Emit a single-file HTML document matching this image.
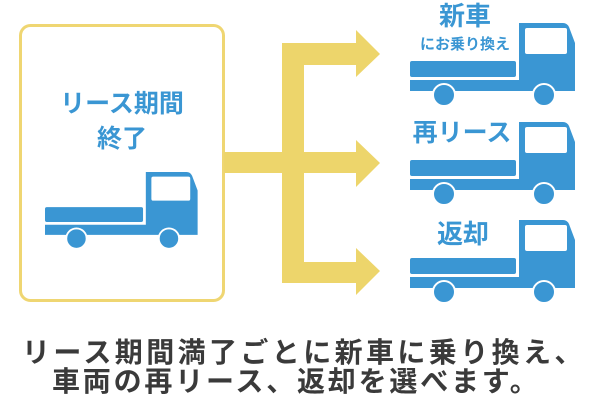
<!DOCTYPE html>
<html><head><meta charset="utf-8"><style>
body{margin:0;width:610px;height:409px;background:#fff;overflow:hidden;position:relative;font-family:"Liberation Sans","Noto Sans CJK JP",sans-serif}
.t{position:absolute;white-space:nowrap;font-weight:bold;color:#3a96d3;line-height:1}
</style></head><body>
<svg width="610" height="409" style="position:absolute;left:0;top:0">
<rect x="20.5" y="25.5" width="203" height="275" rx="10" fill="#fff" stroke="#efd672" stroke-width="3"/>
<g fill="#edd56b">
<rect x="224" y="152" width="60" height="21"/>
<rect x="282" y="43" width="22" height="240"/>
<rect x="282" y="43" width="76" height="22"/><polygon points="356,30 380,54 356,77"/>
<rect x="282" y="152" width="76" height="21"/><polygon points="356,140 380,163 356,187"/>
<rect x="282" y="262" width="76" height="21"/><polygon points="356,248 380,271 356,295"/>
</g>
<defs>
<g id="tr">
<path d="M109,0 H153 Q157,0 159,4 L165,20 V68 H0 V57 H109 Z" fill="#3a96d3"/>
<rect x="115" y="5" width="42" height="26" rx="2" fill="#fff"/>
<rect x="0" y="38" width="106" height="16" rx="2" fill="#3a96d3"/>
<circle cx="34" cy="72" r="11" fill="#3a96d3" stroke="#fff" stroke-width="2"/>
<circle cx="134" cy="72" r="11" fill="#3a96d3" stroke="#fff" stroke-width="2"/>
</g>
</defs>
<use href="#tr" x="410" y="23"/>
<use href="#tr" x="410" y="122"/>
<use href="#tr" x="410" y="220"/>
<g transform="translate(45,172) scale(0.925)"><use href="#tr"/></g>
</svg>
<div class="t" style="left:0;width:244px;text-align:center;top:92px;font-size:25px">リース期間</div>
<div class="t" style="left:0;width:244px;text-align:center;top:127px;font-size:25px">終了</div>
<div class="t" style="left:405px;width:120px;text-align:center;top:3px;font-size:26px">新車</div>
<div class="t" style="left:405px;width:120px;text-align:center;top:37px;font-size:15px">にお乗り換え</div>
<div class="t" style="left:402px;width:120px;text-align:center;top:121px;font-size:25px">再リース</div>
<div class="t" style="left:403px;width:120px;text-align:center;top:221px;font-size:26px">返却</div>
<div class="t" style="left:22px;top:339px;font-size:28px;letter-spacing:3.4px;color:#3a3a3a">リース期間満了ごとに新車に乗り換え、</div>
<div class="t" style="left:52px;top:368px;font-size:28px;letter-spacing:2.8px;color:#3a3a3a">車両の再リース、返却を選べます。</div>
</body></html>
